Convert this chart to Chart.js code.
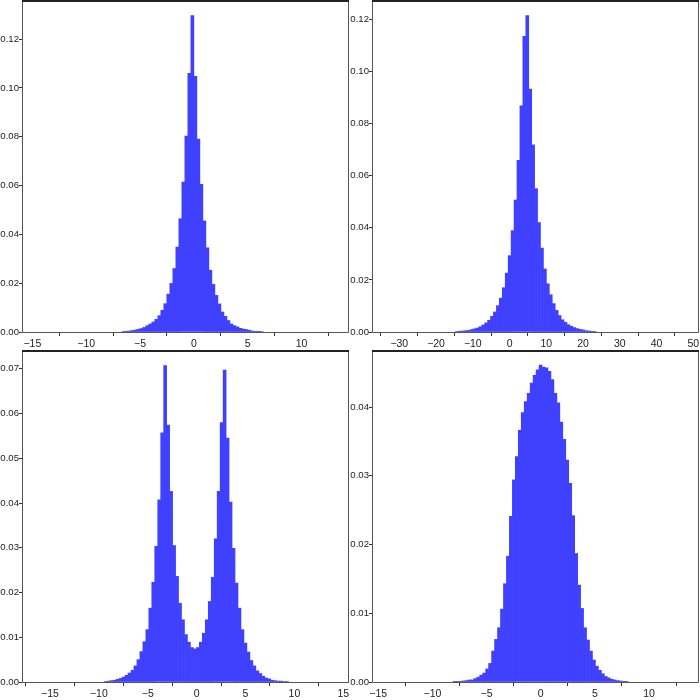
<!DOCTYPE html>
<html>
<head>
<meta charset="utf-8">
<script src="https://cdn.jsdelivr.net/npm/chart.js@4.4.1/dist/chart.umd.min.js"></script>
<style>
  html,body{margin:0;padding:0;background:#fff}
  #wrap{position:relative;width:700px;height:700px;overflow:hidden}
  .cell{position:absolute;width:350px;height:350px}
</style>
</head>
<body>
<div id="wrap">
  <div class="cell" style="left:0;top:0"><canvas id="c1"></canvas></div>
  <div class="cell" style="left:350px;top:0"><canvas id="c2"></canvas></div>
  <div class="cell" style="left:0;top:350px"><canvas id="c3"></canvas></div>
  <div class="cell" style="left:350px;top:350px"><canvas id="c4"></canvas></div>
</div>
<script>
// top left: sharp peak around 0
const p1Values = [0.0002,0.0003,0.0004,0.0006,0.0008,0.0011,0.0014,0.0019,0.0026,0.0033,0.0041,0.0052,
  0.0067,0.0089,0.0116,0.0155,0.0199,0.026,0.0348,0.0464,0.0614,0.0803,0.106,
  0.1296,
  0.1047,0.079,0.0605,0.0455,0.0345,0.0253,0.0195,0.015,0.0115,0.0082,0.0064,0.0047,
  0.0033,0.0026,0.0021,0.0015,0.0012,0.001,0.0007,0.0004,0.0003,0.0003,0.0002];
const p1Bins = {first: -6.56, width: 0.279};
const p1XTicks = [-15,-10,-5,0,5,10];
const p1YTicks = [0,0.02,0.04,0.06,0.08,0.10,0.12];

// top right: wider, shifted to ~5
const p2Values = [0.0002,0.0003,0.0004,0.0005,0.0006,0.0009,0.0012,0.0015,0.002,0.0027,0.0035,0.0045,
  0.006,0.0077,0.0101,0.013,0.017,0.0226,0.0293,0.0389,0.0506,0.0659,0.0868,0.1135,
  0.1214,
  0.0932,0.0718,0.055,0.042,0.0322,0.0242,0.0185,0.0143,0.0109,0.0083,0.0063,0.0047,
  0.0037,0.0028,0.0022,0.0017,0.0013,0.001,0.0008,0.0005,0.0004,0.0003,0.0002];
const p2Bins = {first: -14.38, width: 0.80};
const p2XTicks = [-30,-20,-10,0,10,20,30,40,50];
const p2YTicks = [0,0.02,0.04,0.06,0.08,0.10,0.12];

// bottom left: two peaks
const p3Values = [0.0001,0.0002,0.0003,0.0004,0.0006,0.0008,0.0011,0.0015,0.002,0.0026,0.0036,0.005,
  0.0068,0.009,0.0117,0.0165,0.0223,0.0303,0.0407,0.0557,
  0.0707,
  0.0574,0.0426,0.0305,0.0236,0.0176,0.0139,0.0106,0.0089,0.0077,0.0074,0.0077,0.0089,
  0.0109,0.0139,0.018,0.0234,0.032,0.0426,0.058,
  0.0697,
  0.0545,0.0402,0.0299,0.0221,0.0165,0.0117,0.0087,0.0067,0.0048,0.0036,0.0025,0.0019,
  0.0013,0.0009,0.0007,0.0004,0.0003,0.0002,0.0002,0.0001,0.0001];
const p3Bins = {first: -9.30, width: 0.304};
const p3XTicks = [-15,-10,-5,0,5,10,15];
const p3YTicks = [0,0.01,0.02,0.03,0.04,0.05,0.06,0.07];

// bottom right: bell shape
const p4Values = [0.0001,0.0001,0.0001,0.00015,0.0002,0.0003,0.0003,0.0005,0.0007,0.001,0.0013,0.0019,
  0.0027,0.0045,0.0062,0.0079,0.0106,0.0143,0.0183,0.0241,0.0294,0.0328,0.0366,0.0392,
  0.0408,0.042,0.0435,0.0446,0.0454,
  0.0461,
  0.0458,0.0457,0.0452,0.044,0.042,0.0406,0.0378,0.0353,0.0323,0.0289,0.0242,0.0187,
  0.0141,0.0107,0.0079,0.0061,0.0045,0.0032,0.0023,0.0017,0.0012,0.0008,0.0006,0.0004,
  0.0003,0.0002,0.00015,0.0001,0.00005];
const p4Bins = {first: -7.96, width: 0.274};
const p4XTicks = [-15,-10,-5,0,5,10];
const p4YTicks = [0,0.01,0.02,0.03,0.04];

const xRanges = [[-15.96,14.4],[-37.43,51.55],[-17.86,15.58],[-15.58,14.62]];
const yMaxes = [0.136,0.1274,0.0742,0.0483];

const BAR = '#4040ff';
const XFONT = {family: '"Liberation Sans",Arial,sans-serif', size: 10.5};
const YFONT = {family: '"Liberation Sans",Arial,sans-serif', size: 9.6};

const framePlugin = {
  id: 'frame',
  afterDraw(chart){
    const ctx = chart.ctx, a = chart.chartArea;
    ctx.save();
    ctx.strokeStyle = '#555';
    ctx.lineWidth = 1;
    ctx.beginPath();
    ctx.moveTo(a.left+0.5, a.top); ctx.lineTo(a.left+0.5, a.bottom+0.5);
    ctx.lineTo(a.right-0.5, a.bottom+0.5); ctx.lineTo(a.right-0.5, a.top);
    ctx.stroke();
    ctx.fillStyle = '#222';
    ctx.fillRect(a.left, a.top, a.right-a.left, 2);
    ctx.restore();
  }
};

function minus(v){ return String(v).replace('-', '\u2212'); }

function makeHist(id, values, bins, xTicks, yTicks, xRange, yMax){
  const data = values.map((v,i)=>({x: bins.first + i*bins.width, y: v}));
  new Chart(document.getElementById(id), {
    type: 'bar',
    data: {datasets: [{data: data, backgroundColor: BAR, borderWidth: 0,
      barPercentage: 1, categoryPercentage: 1, grouped: false}]},
    options: {
      responsive: true, maintainAspectRatio: false, animation: false,
      layout: {padding: {top: 0, right: 1, bottom: 0, left: 0}},
      plugins: {legend: {display: false}, tooltip: {enabled: false}},
      scales: {
        x: {
          type: 'linear', offset: false, min: xRange[0], max: xRange[1],
          border: {display: false},
          grid: {drawOnChartArea: false, drawTicks: true, tickLength: 4, color: '#333'},
          ticks: {color: '#222', font: XFONT, padding: 2, maxRotation: 0, autoSkip: false,
            callback: v => minus(v)},
          afterBuildTicks: s => { s.ticks = xTicks.map(v=>({value: v})); },
          afterFit: s => { s.height = 18; s.paddingLeft = 0; s.paddingRight = 0; }
        },
        y: {
          min: 0, max: yMax,
          border: {display: false},
          grid: {drawOnChartArea: false, drawTicks: true, tickLength: 3, color: '#333'},
          ticks: {color: '#222', font: YFONT, padding: 0, autoSkip: false,
            callback: v => v.toFixed(2)},
          afterBuildTicks: s => { s.ticks = yTicks.map(v=>({value: v})); },
          afterFit: s => { s.width = 22; s.paddingTop = 0; s.paddingBottom = 0; }
        }
      }
    },
    plugins: [framePlugin]
  });
}

makeHist('c1', p1Values, p1Bins, p1XTicks, p1YTicks, xRanges[0], yMaxes[0]);
makeHist('c2', p2Values, p2Bins, p2XTicks, p2YTicks, xRanges[1], yMaxes[1]);
makeHist('c3', p3Values, p3Bins, p3XTicks, p3YTicks, xRanges[2], yMaxes[2]);
makeHist('c4', p4Values, p4Bins, p4XTicks, p4YTicks, xRanges[3], yMaxes[3]);
</script>
</body>
</html>
